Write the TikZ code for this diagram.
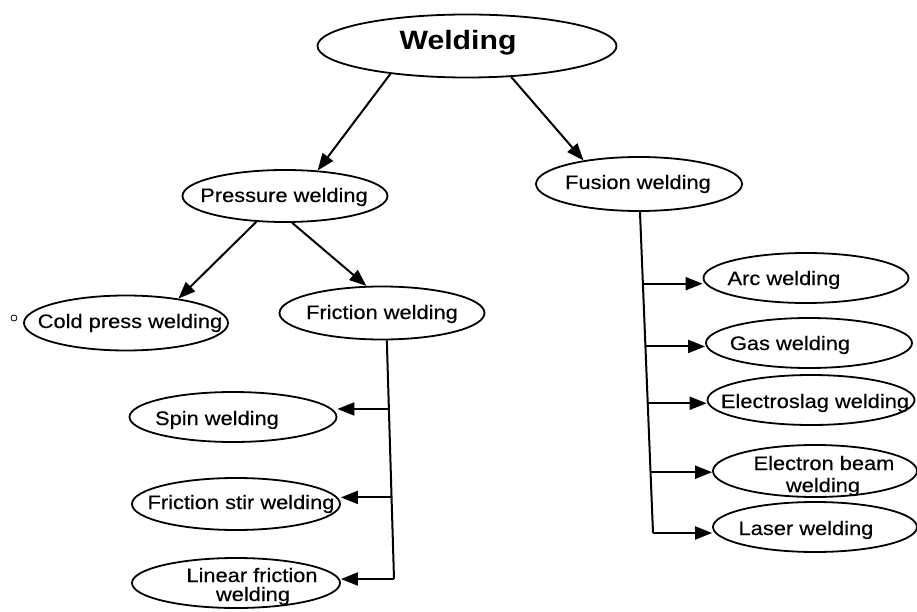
\documentclass[tikz,border=0pt]{standalone}
\usepackage{fontspec}
\setmainfont{Liberation Sans}[FakeStretch=1.14]
\newfontfamily\lblfont{Liberation Sans}[FakeStretch=1.12, FakeBold=0.4]
\usetikzlibrary{shapes.geometric,arrows.meta,calc}

\tikzset{
  oval/.style={ellipse, draw, line width=1.8pt, inner sep=0pt},
  lbl/.style={anchor=base, inner sep=0pt, font=\lblfont\fontsize{19.5}{21}\selectfont},
  arr/.style={line width=2pt, -{Triangle[length=17pt,width=13pt]}},
  trunk/.style={line width=2pt},
}

\begin{document}
\begin{tikzpicture}[x=1pt,y=-1pt]
\useasboundingbox (0,0) rectangle (917,612);

% top level
\node[oval, minimum width=299pt, minimum height=63pt] (weld) at (467,46) {};
\node[lbl, font=\fontsize{26.5}{28}\bfseries\selectfont] (weldT) at (458,50) {Welding};

% second level
\node[oval, minimum width=205pt, minimum height=52pt] (press) at (285,196) {};
\node[lbl] (pressT) at (284,202) {Pressure welding};
\node[oval, minimum width=206pt, minimum height=54pt] (fus) at (639,184) {};
\node[lbl] (fusT) at (638,189) {Fusion welding};

% pressure welding branch
\node[oval, minimum width=204pt, minimum height=55pt] (cold) at (126,323) {};
\node[lbl] (coldT) at (130,328) {Cold press welding};
\draw[line width=0.8pt] (14,318) circle (3pt);
\node[oval, minimum width=205pt, minimum height=53pt] (fric) at (382,313) {};
\node[lbl] (fricT) at (382,319) {Friction welding};

\node[oval, minimum width=207pt, minimum height=50pt] (spin) at (233,417) {};
\node[lbl] (spinT) at (217,425) {Spin welding};
\node[oval, minimum width=208pt, minimum height=52pt] (fsw) at (236,504) {};
\node[lbl] (fswT) at (241,509) {Friction stir welding};
\node[oval, minimum width=208pt, minimum height=50pt] (lin) at (236,583) {};
\node[lbl] (linT1) at (252,582) {Linear friction};
\node[lbl] (linT2) at (253,601) {welding};

% fusion welding branch
\node[oval, minimum width=205pt, minimum height=50pt] (arc) at (806,278) {};
\node[lbl] (arcT) at (784,285) {Arc welding};
\node[oval, minimum width=206pt, minimum height=50pt] (gas) at (809,343) {};
\node[lbl] (gasT) at (790,350) {Gas welding};
\node[oval, minimum width=207pt, minimum height=50pt] (esw) at (811,400) {};
\node[lbl] (eswT) at (815,408) {Electroslag welding};
\node[oval, minimum width=204pt, minimum height=52pt] (ebw) at (815,471) {};
\node[lbl] (ebwT1) at (824,470) {Electron beam};
\node[lbl] (ebwT2) at (823,492) {welding};
\node[oval, minimum width=204pt, minimum height=50pt] (las) at (815,527) {};
\node[lbl] (lasT) at (806,535) {Laser welding};

% diagonal arrows
\draw[arr] (weld.200) -- (press.38);
\draw[arr] (weld.325) -- (fus.157);
\draw[arr] (press.222) -- (cold.25);
\draw[arr] (press.285) -- (fric.120);

% friction welding trunk
\coordinate (ftop) at (fric.280);
\coordinate (fbot) at (394,579);
\draw[trunk] (ftop) -- (fbot);
\coordinate (f1) at ($(ftop)!0.2875!(fbot)$);
\coordinate (f2) at ($(ftop)!0.658!(fbot)$);
\draw[arr] (f1) -- (f1 -| spin.east);
\draw[arr] (f2) -- (f2 -| fsw.east);
\draw[arr] (fbot) -- (fbot -| lin.east);

% fusion welding trunk
\coordinate (utop) at (fus.272);
\coordinate (ubot) at (653,533);
\draw[trunk] (utop) -- (ubot);
\coordinate (u1) at ($(utop)!0.2236!(ubot)$);
\coordinate (u2) at ($(utop)!0.419!(ubot)$);
\coordinate (u3) at ($(utop)!0.596!(ubot)$);
\coordinate (u4) at ($(utop)!0.8106!(ubot)$);
\draw[arr] (u1) -- (u1 -| arc.west);
\draw[arr] (u2) -- (u2 -| gas.west);
\draw[arr] (u3) -- (u3 -| esw.west);
\draw[arr] (u4) -- (u4 -| ebw.west);
\draw[arr] (ubot) -- (ubot -| las.west);
\end{tikzpicture}
\end{document}
